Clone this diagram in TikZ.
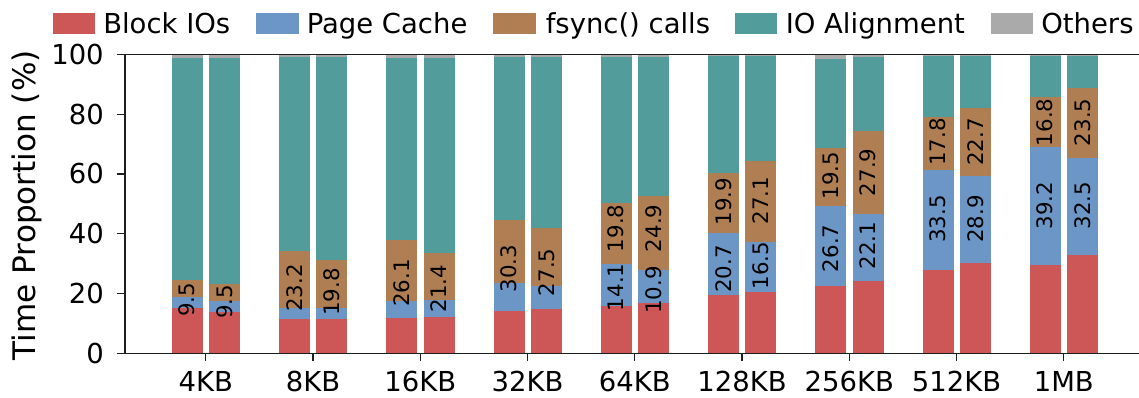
\documentclass[tikz,border=0pt]{standalone}
\usepackage{fontspec}
\setmainfont{DejaVu Sans}
\definecolor{cred}{RGB}{205,86,86}
\definecolor{cblue}{RGB}{108,150,197}
\definecolor{cbrown}{RGB}{175,126,82}
\definecolor{cteal}{RGB}{82,156,156}
\definecolor{cgray}{RGB}{170,170,170}
\definecolor{spine}{RGB}{30,30,30}
\begin{document}
\begin{tikzpicture}[x=0.75pt,y=-0.75pt,
  seg/.style={draw=none},
  baredge/.style={draw=white,line width=0.4pt},
  lbl/.style={rotate=90,inner sep=0pt,font=\fontsize{16}{16}\selectfont},
  tick/.style={inner sep=0pt,font=\fontsize{20.6}{20.6}\selectfont},
  leg/.style={inner sep=0pt,anchor=base west,font=\fontsize{20.6}{20.6}\selectfont},
  axline/.style={draw=spine,line width=1.1pt},
  tickline/.style={draw=spine,line width=0.9pt}]
\useasboundingbox (0,0) rectangle (1139,397);

% bars: center x / red top / blue top / brown top / teal top
\foreach \xc/\r/\b/\f/\t in {
  187.1/308.3/297.3/279.7/58.3, 224.5/311.7/301/283.7/58.3,
  294.35/319/307.7/250.7/57.0, 331.75/319/307.7/260/57.0,
  401.6/318/301/240/58.3, 439.0/317.3/300/253.3/58,
  508.85/310.7/283.3/220/56.5, 546.25/309.3/285.7/227.7/56.5,
  616.1/305.7/263.7/203.3/57.3, 653.5/303/270.3/195.7/56.8,
  723.35/295.3/233.3/173.3/56.3, 760.75/291.7/241.7/160.7/56.3,
  830.6/285.7/206.3/148/58.6, 868.0/281/213.7/131/57.0,
  937.85/270.3/170/117/56.3, 975.25/263/175.7/108/56.3,
  1045.1/265/147.3/97.3/56.0, 1082.5/255/158/87.7/56.0}{
  \path[seg,fill=cred]   (\xc-16,353.3) rectangle (\xc+16,\r);
  \path[seg,fill=cblue]  (\xc-16,\r) rectangle (\xc+16,\b);
  \path[seg,fill=cbrown] (\xc-16,\b) rectangle (\xc+16,\f);
  \path[seg,fill=cteal]  (\xc-16,\f) rectangle (\xc+16,\t);
  \path[seg,fill=cgray]  (\xc-16,\t) rectangle (\xc+16,54.3);
  \path[baredge] (\xc-16,353.3) rectangle (\xc+16,54.3);
}

% bar value labels
\node[lbl] (a1) at (187.1,300) {9.5};
\node[lbl] (a2) at (224.5,302) {9.5};
\node[lbl] (b1) at (294.35,288) {23.2};
\node[lbl] (b2) at (331.75,292) {19.8};
\node[lbl] (c1) at (401.6,283) {26.1};
\node[lbl] (c2) at (439.0,288.7) {21.4};
\node[lbl] (d1) at (508.85,268.7) {30.3};
\node[lbl] (d2) at (546.25,272.3) {27.5};
\node[lbl] (e1) at (616.1,287.3) {14.1};
\node[lbl] (e1b) at (616.1,228.3) {19.8};
\node[lbl] (e2) at (653.5,290) {10.9};
\node[lbl] (e2b) at (653.5,228.3) {24.9};
\node[lbl] (f1) at (723.35,269) {20.7};
\node[lbl] (f1b) at (723.35,201.7) {19.9};
\node[lbl] (f2) at (760.75,265.7) {16.5};
\node[lbl] (f2b) at (760.75,200.7) {27.1};
\node[lbl] (g1) at (830.6,248.3) {26.7};
\node[lbl] (g1b) at (830.6,175.7) {19.5};
\node[lbl] (g2) at (868.0,245.7) {22.1};
\node[lbl] (g2b) at (868.0,172.3) {27.9};
\node[lbl] (h1) at (937.85,219) {33.5};
\node[lbl] (h1b) at (937.85,142) {17.8};
\node[lbl] (h2) at (975.25,219) {28.9};
\node[lbl] (h2b) at (975.25,142) {22.7};
\node[lbl] (i1) at (1045.1,205.7) {39.2};
\node[lbl] (i1b) at (1045.1,122.3) {16.8};
\node[lbl] (i2) at (1082.5,205.7) {32.5};
\node[lbl] (i2b) at (1082.5,122.3) {23.5};

% axes
\coordinate (tl) at (125,54.3);
\coordinate (bl) at (125,353.3);
\coordinate (tr) at (1139,54.3);
\coordinate (br) at (1139,353.3);
\draw[axline] (tl) -- (tr);
\draw[axline] (bl) -- (br);
\draw[axline] (tl) -- (bl);

% y ticks
\foreach \v in {0,20,40,60,80,100}{
  \draw[tickline] (116.7,{353.3-2.99*\v}) -- (125,{353.3-2.99*\v});
  \node[tick,anchor=east] (y\v) at (104,{353.3-2.99*\v}) {\v};
}
% x ticks
\foreach \i/\t in {0/4KB,1/8KB,2/16KB,3/32KB,4/64KB,5/128KB,6/256KB,7/512KB,8/1MB}{
  \draw[tickline] ({205.8+107.25*\i},353.3) -- ({205.8+107.25*\i},361);
  \node[tick,anchor=base] (x\i) at ({205.8+107.25*\i},391.7) {\t};
}

% y label
\node[inner sep=0pt,rotate=90,anchor=base,font=\fontsize{23.3}{23.3}\selectfont] (ylab) at (35,205.2) {Time Proportion (\%)};

% legend
\path[fill=cred,draw=white,line width=0.4pt] (52,12.7) rectangle (95.6,34.5);
\node[leg] (lg1) at (103,33.5) {Block IOs};
\path[fill=cblue,draw=white,line width=0.4pt] (255.6,12.7) rectangle (299.3,34.5);
\node[leg] (lg2) at (306.5,33.5) {Page Cache};
\path[fill=cbrown,draw=white,line width=0.4pt] (492.7,12.7) rectangle (536.4,34.5);
\node[leg] (lg3) at (545.5,33.5) {fsync() calls};
\path[fill=cteal,draw=white,line width=0.4pt] (734,12.7) rectangle (777.5,34.5);
\node[leg] (lg4) at (785.5,33.5) {IO Alignment};
\path[fill=cgray,draw=white,line width=0.4pt] (989.8,12.7) rectangle (1033.4,34.5);
\node[leg] (lg5) at (1041,33.5) {Others};
\end{tikzpicture}
\end{document}
